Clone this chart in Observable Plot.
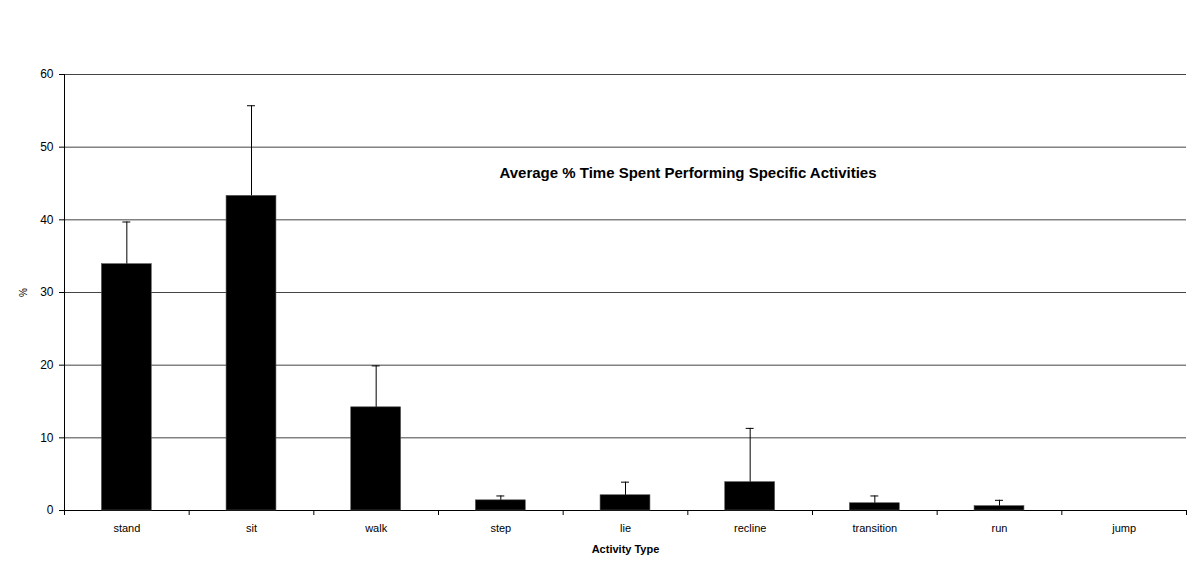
<!DOCTYPE html>
<html>
<head>
<meta charset="utf-8">
<script src="https://cdn.jsdelivr.net/npm/d3@7"></script>
<script src="https://cdn.jsdelivr.net/npm/@observablehq/plot@0.6"></script>
<style>
  html, body { margin: 0; padding: 0; background: #fff; }
  svg { display: block; }
</style>
</head>
<body>
<div id="chart"></div>
<script>
const categories = ["stand", "sit", "walk", "step", "lie", "recline", "transition", "run", "jump"];
const means = [33.9, 43.3, 14.2, 1.4, 2.1, 3.9, 1.0, 0.6, 0];
const errors = [5.8, 12.4, 5.7, 0.6, 1.8, 7.4, 1.0, 0.8, 0];
const yTicks = [0, 10, 20, 30, 40, 50, 60];
const title = "Average % Time Spent Performing Specific Activities";
const xTitle = "Activity Type";
const yTitle = "%";

const data = categories.map((c, i) => ({ i, category: c, mean: means[i], err: errors[i] }));
const shown = data.filter(d => d.mean > 0);
const boundaries = d3.range(0, categories.length + 1);

const font = "'Liberation Sans', Arial, sans-serif";

const chart = Plot.plot({
  width: 1200,
  height: 576,
  marginLeft: 64,
  marginRight: 14,
  marginTop: 74,
  marginBottom: 66,
  style: { fontFamily: font, fontSize: "11px", color: "#000", background: "#fff" },
  x: { type: "linear", domain: [0, categories.length] },
  y: { domain: [0, 60] },
  marks: [
    Plot.gridY(yTicks, { stroke: "#444", strokeOpacity: 1 }),
    Plot.axisY(yTicks, { tickSize: 5, tickPadding: 6, stroke: "#000", fontSize: 12, label: null }),
    Plot.axisY(yTicks, { tickSize: 0, tickFormat: () => "", fontSize: 10,
      label: yTitle, labelAnchor: "center", labelArrow: "none", labelOffset: 45 }),
    Plot.axisX(boundaries, { tickSize: 5, tickFormat: () => "", stroke: "#000",
      label: xTitle, labelAnchor: "center", labelArrow: "none", labelOffset: 42,
      fontWeight: "bold", fontSize: 11 }),
    Plot.ruleX([0], { y1: 0, y2: 60, stroke: "#000" }),
    Plot.ruleY([0], { stroke: "#000" }),
    Plot.rectY(shown, { x1: d => d.i + 0.3, x2: d => d.i + 0.7, y: "mean", fill: "#000", stroke: "#555", strokeWidth: 0.6 }),
    Plot.ruleX(shown, { x: d => d.i + 0.5, y1: "mean", y2: d => d.mean + d.err, stroke: "#000", strokeWidth: 1 }),
    Plot.ruleY(shown, { y: d => d.mean + d.err, x1: d => d.i + 0.5 - 0.032, x2: d => d.i + 0.5 + 0.032, stroke: "#000", strokeWidth: 1 }),
    Plot.text(data, { x: d => d.i + 0.5, y: 0, text: "category", dy: 18, fontSize: 11, fill: "#000" }),
    Plot.text([title], { frameAnchor: "top", dx: 62.5, dy: 93, fontSize: 15, fontWeight: "bold", fill: "#000" })
  ]
});
document.getElementById("chart").appendChild(chart);
</script>
</body>
</html>
